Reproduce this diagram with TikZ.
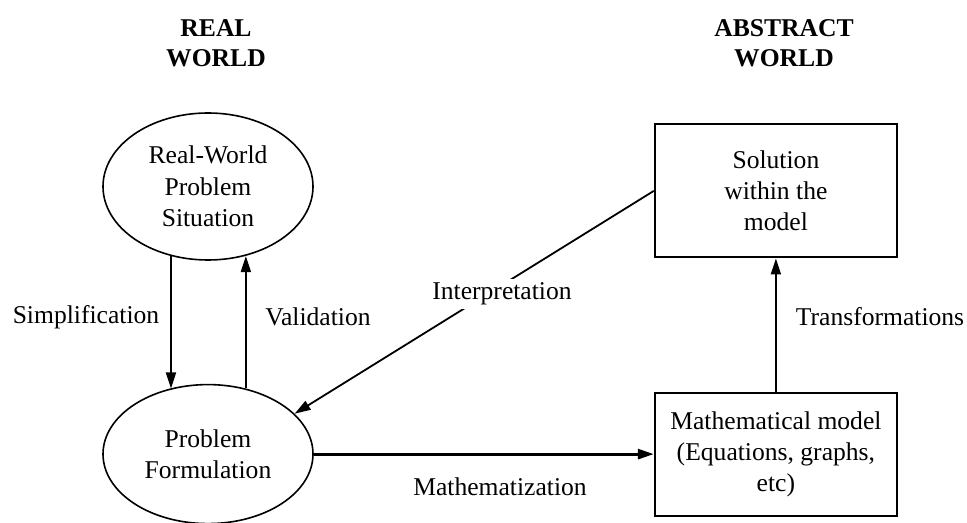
\documentclass[tikz,border=0pt]{standalone}
\usepackage{fontspec}
\setmainfont{Liberation Serif}
\usetikzlibrary{shapes.geometric, arrows.meta, positioning}

\begin{document}
\begin{tikzpicture}[
  x=0.5pt, y=-0.5pt,
  el/.style={ellipse, draw, line width=0.8pt, minimum width=105pt,
             inner sep=1pt, align=center,
             font=\fontsize{12.8}{15.8}\selectfont},
  bx/.style={rectangle, draw, line width=1.1pt, minimum width=121pt,
             align=center, font=\fontsize{12.8}{15.5}\selectfont},
  a/.style={-{Triangle[length=8pt, width=5pt]}, line width=0.9pt},
  lb/.style={font=\fontsize{12.8}{15.5}\selectfont, inner sep=2pt},
  ttl/.style={align=center, font=\fontsize{12.8}{15}\selectfont\bfseries},
  node distance=61.5pt and 170pt,
]
  \useasboundingbox (0,0) rectangle (967,523);

  % titles
  \node[ttl] (real) at (216,43) {REAL\\WORLD};
  \node[ttl] (abst) at (784,43) {ABSTRACT\\WORLD};

  % nodes
  \node[el, minimum height=73.5pt] (rw) at (208,186.5)
       {Real-World\\Problem\\Situation};
  \node[el, minimum height=69.5pt, below=of rw] (pf) {Problem\\Formulation};
  \node[bx, minimum height=61.5pt, right=of pf] (mm)
       {Mathematical model\\(Equations, graphs,\\etc)};
  \node[bx, minimum height=66.5pt, above=66.5pt of mm] (sol)
       {Solution\\within the\\model};

  % connectors
  \draw[a] (rw.242) -- (rw.242 |- pf.120);
  \draw[a] (pf.60) -- (pf.60 |- rw.298);
  \draw[a, line width=1.4pt] (pf.east) -- (pf.east -| mm.west);
  \draw[a] (mm.north) -- (sol.south);
  \draw[a] (sol.west) -- (pf.25);

  % labels
  \node[lb] (simp) at (86,317) {Simplification};
  \node[lb] (vali) at (318,317) {Validation};
  \node[lb] (trans) at (880,317) {Transformations};
  \node[lb] (math) at (500,487) {Mathematization};
  \node[lb, fill=white] (interp) at (502,294) {Interpretation};
\end{tikzpicture}
\end{document}
